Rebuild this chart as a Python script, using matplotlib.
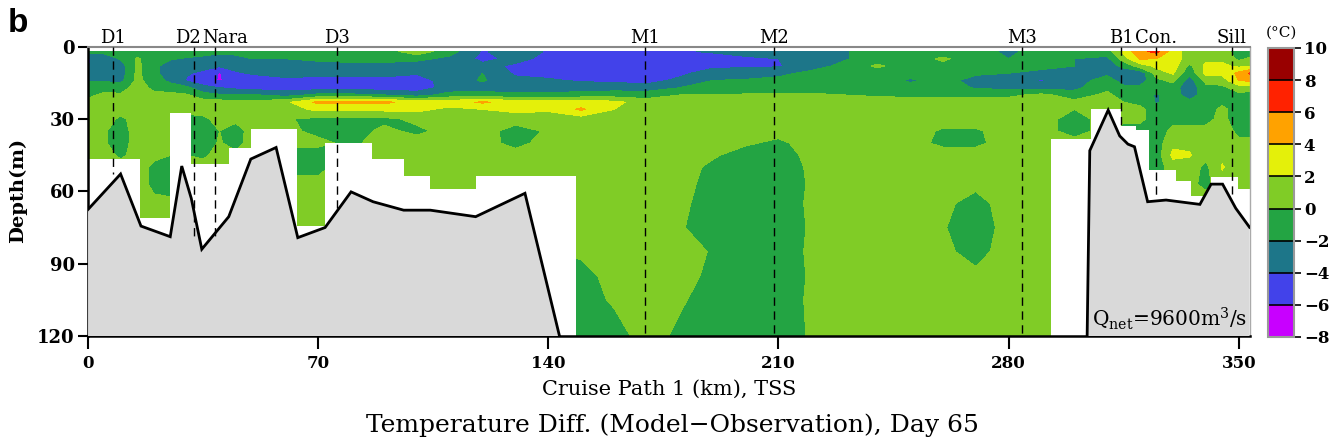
"""
Temperature difference section (model - observation) along cruise path 1
"""

import numpy as np
import matplotlib as mpl
import matplotlib.pyplot as plt

mpl.rcParams.update(
    {
        "font.family": "DejaVu Serif",
        "mathtext.fontset": "dejavuserif",
    }
)

# distance along the cruise path (km) and depth levels (m) of the section grid
dist_km = [0, 5, 10, 15, 20, 25, 30, 35, 40, 45, 50, 60, 70, 80, 90, 100, 110, 120,
           130, 140, 150, 160, 170, 180, 190, 200, 210, 220, 230, 240, 250, 260, 270,
           280, 290, 300, 310, 315, 320, 325, 330, 335, 340, 345, 350, 354]
depth_m = [2, 5, 8, 11, 14, 17, 20, 23, 26, 30, 35, 40, 45, 50, 57, 65, 75, 85, 95, 105, 120]

# one profile (top -> bottom) per distance, degC
temp_diff = [
    [-1.5, -4.2, -4.1, -3, -2.2, -1, -0.5, 0.5, 1, 1, 1, 1, 1, 1, 1, 1, 1, 1, 1, 1, 1],
    [-1.5, -3, -3, -3, -2.2, -1, 0.5, 1, 1, 1, 0.2, 0.2, 1, 1, 1, 1, 1, 1, 1, 1, 1],
    [-1, -1.8, -3, -3, -2.5, -1, 0.3, 1, 1, -0.5, -1, -1, -0.5, 1, 1, 1, 1, 1, 1, 1, 1],
    [-1, 0.2, 0.5, 0.5, 0.5, 1, 1, 1, 1, 1, 1, 1, 1, 1, 1, 1, 1, 1, 1, 1, 1],
    [-1, -1, -1.5, -1.5, -1, -0.5, 0.5, 1, 1, 1, 1, 1, 0.5, -0.5, -0.5, 0.5, 1, 1, 1, 1, 1],
    [-1, -1.8, -3, -3, -2.5, -1, 0.5, 1, 1, 1, 1, 1, 0, -1, -1, 0.5, 1, 1, 1, 1, 1],
    [-1, -2.2, -3, -3.8, -4.2, -1.5, 0.2, 1, 1, -1, -1, -1, 0, 1, 1, 1, 1, 1, 1, 1, 1],
    [-1.2, -2.5, -3.3, -4.5, -5, -3.5, -1.2, 0.8, 1, -0.5, -1, -1, -0.5, 1, 1, 1, 1, 1, 1, 1, 1],
    [-1.5, -3, -3.8, -6.2, -6.2, -4, -1.8, 0.8, 1, 0.8, 0, 0.2, 1, 1, 1, 1, 1, 1, 1, 1, 1],
    [-1.5, -2.5, -3.2, -4.3, -5, -4.5, -1.8, 0.5, 1, 0.5, -1, -0.8, 0.5, 1, 1, 1, 1, 1, 1, 1, 1],
    [-1.2, -2, -3, -3.8, -5, -4.8, -1.8, 0.5, 1, 1, 1, 1, 1, 1, 1, 1, 1, 1, 1, 1, 1],
    [-1, -2, -3, -3.3, -4.5, -5, -2.8, 1.5, 1, 0.2, 0.5, 0.5, -1, -1, 1, 1, 1, 1, 1, 1, 1],
    [-1, -1.5, -3, -3.3, -4.8, -5, -1.5, 4.5, 2.5, -0.5, -0.5, 0.5, -1, -0.5, 0.5, 1, 1, 1, 1, 1, 1],
    [-1, -1.5, -2.5, -3.3, -4.8, -5, -1.5, 4.5, 2.5, -0.5, -1, -0.5, 1, 1, 1, 1, 1, 1, 1, 1, 1],
    [-1, -1.5, -2.5, -3.2, -4.8, -5, -2, 4.5, 2.5, -0.5, 0.5, 1, 1, 1, 1, 1, 1, 1, 1, 1, 1],
    [1.2, -1.5, -3, -3.8, -5, -5, -3, 3, 2.5, 0.5, -0.5, 1, 1, 1, 1, 1, 1, 1, 1, 1, 1],
    [-1.2, -2.5, -3, -3, -3, -3.2, -1.2, 3, 1.5, 1, 0.8, 1, 1, 1, 1, 1, 1, 1, 1, 1, 1],
    [-4.2, -4.5, -3.5, -2, -1.8, -3, -1.2, 4.3, 2, 1, 1, 1, 1, 1, 1, 1, 1, 1, 1, 1, 1],
    [-3, -3.5, -4.3, -4.3, -3.5, -3, -1.5, 3, 2.5, 1, -1, -0.8, 1, 1, 1, 1, 1, 1, 1, 1, 1],
    [-4.2, -4.5, -4.5, -4.5, -3.8, -3, -1.5, 3, 2.5, 0.3, 0.3, 1, 1, 1, 1, 1, 1, 0, -1, -1, -1],
    [-4.5, -4.5, -4.5, -4.8, -4.2, -3, -1.2, 3, 4.3, 1, 1, 1, 1, 1, 1, 1, 1, 0.5, -1, -1, -1],
    [-4.5, -4.5, -4.2, -4.8, -4.5, -2.8, -1, 2.5, 2, 1, 1, 1, 1, 1, 1, 1, 1, 1, 1, 0.3, -1],
    [-4.5, -4.5, -4.2, -5, -4.8, -3, -1, 1, 1, 1, 1, 1, 1, 1, 1, 1, 1, 1, 1, 1, 1],
    [-4.5, -4.8, -4, -4.5, -3.5, -2, 0, 1, 1, 1, 1, 1, 1, 1, 1, 0.5, 0.2, 1, 0.8, 0.3, -0.5],
    [-3.5, -6.1, -4.5, -3, -2, -1.5, 0, 1, 1, 1, 1, 1, 0.3, -0.5, -1, -1, -1, -0.2, -0.5, -1, -1],
    [-3, -4.5, -4.3, -3, -1.8, -1.2, 0.2, 1, 1, 1, 1, 0.3, -1, -1, -1, -1, -1, -1, -1, -1, -1],
    [-3, -4, -4.2, -2.5, -1.5, -1, 0.3, 1, 1, 1, 0.8, -0.5, -1, -1, -1, -1, -1, -1, -1, -1, -1],
    [-2.5, -3, -2.8, -1.5, -1, -1, 0.3, 1, 1, 1, 1, 1, 0.6, 0.3, 0.2, 0.3, 0.2, 0.3, 0.2, 0.3, 0.2],
    [-2.2, -2.2, -1.5, -1, -1, -1, 0, 1, 1, 1, 1, 1, 1, 1, 1, 1, 1, 1, 1, 1, 1],
    [-1, -1, 0.3, -1, -1, -1, -0.3, 1, 1, 1, 1, 1, 1, 1, 1, 1, 1, 1, 1, 1, 1],
    [-1, -1, -1, -1.5, -2.2, -1.5, -0.5, 1, 1, 1, 1, 0.8, 1, 1, 1, 1, 1, 1, 1, 1, 1],
    [-1, 0.3, -0.5, -1, -1.5, -1, -0.5, 1, 1, 1, -0.3, -0.5, 1, 1, 0.8, 0.5, 0.2, 0.5, 1, 1, 1],
    [-1, -1, -1, -1.8, -2.5, -2.2, -0.5, 1, 1, 1, -0.3, -0.5, 1, 1, 0.5, -0.8, -1.5, -0.8, 0.5, 1, 1],
    [-2.5, -2, -1, -2, -3, -2.5, -0.5, 1, 1, 1, 1, 1, 1, 1, 1, 1, 1, 1, 1, 1, 1],
    [-1, -1, -1.5, -2.5, -4.2, -3, 0.5, 1, 1, 1, 1, 1, 1, 1, 1, 1, 1, 1, 1, 1, 1],
    [-1, -2, -2, -3, -3, -2.5, -1, 0.5, 0, -1, -1, 1, 1, 1, 1, 1, 1, 1, 1, 1, 1],
    [-1, -2.5, -3, -2.5, -1, -0.5, 0.5, 1, 1, 1, 1, 1, 1, 1, 1, 1, 1, 1, 1, 1, 1],
    [2.5, 1, -1.5, -3.2, -3, -1.5, -1, 0, 0.5, 0.5, -1, -1, -1, -1, -1, 1, 1, 1, 1, 1, 1],
    [5.5, 4.2, 1, -3.5, -3, -1.5, -1, -0.5, 0.5, 0.5, -1, -1, -1, -1, -1, 1, 1, 1, 1, 1, 1],
    [6.6, 4, 2.5, 1, -0.5, -1, -2.2, -2.2, -1, -1, -1, -1, -1, -1, -1, 1, 1, 1, 1, 1, 1],
    [3, 3, 3, 2.2, 0.5, -1, -1, -1, -1, -0.5, 0.5, 1.5, 2.5, 1, 1, 1, 1, 1, 1, 1, 1],
    [1, 1, -0.5, -1.5, -3, -3.5, -3, -1.5, -1, -0.5, 0.5, 1.5, 2.2, 1, 0.5, 1, 1, 1, 1, 1, 1],
    [1, 1.5, 2.5, 2.5, 0.5, -0.5, -1, -1, -1, -0.5, 0.5, 1, 0.5, -0.5, -0.5, 1, 1, 1, 1, 1, 1],
    [1, 1.5, 2.5, 2.5, 1, -0.5, -1, -0.5, 0.5, 0.5, 1, 1, 1.5, 2.2, 1, 1, 1, 1, 1, 1, 1],
    [-1, -0.5, 1.5, 4.5, 4, 1, -0.5, -1, -1, -1, -0.5, 0.5, 1, 0.5, 1, 1, 1, 1, 1, 1, 1],
    [-1, 0.5, 2, 6.5, 4.5, 1, -1, -1, -1, -1, -1, 1, 1, 1, 1, 1, 1, 1, 1, 1, 1],
]

levels = [-8, -6, -4, -2, 0, 2, 4, 6, 8, 10]
level_colors = ["#c800ff", "#4242ea", "#1d7689", "#23a443", "#80cc26",
                "#e4f00a", "#ffa200", "#ff2200", "#990000"]

# model bottom (stepped grid), start km of each step and its depth
grid_km = [0, 15.8, 25.0, 31.2, 42.8, 49.5, 63.5, 72.2, 86.5, 96.0, 104.1, 117.9,
           148.4, 293.0, 305.2, 314.3, 318.8, 322.8, 331.0, 335.6, 341.6, 349.7, 353.3]
grid_depth = [46.7, 71, 27.4, 48.8, 42.2, 34.3, 74.4, 40.1, 46.7, 53.8, 59, 53.7,
              120, 38.4, 25.9, 32.8, 34.6, 51, 55.6, 61.8, 53.9, 59, 59]

# real bathymetry along the path
bathy_w_km = [0, 9.9, 16.1, 25, 28.5, 31.4, 34.6, 42.8, 49.5, 57.2, 63.8, 72.1, 80,
              86.7, 96, 104.1, 117.9, 132.9, 143.4]
bathy_w_depth = [67.5, 52.8, 74.4, 78.8, 49.5, 62.9, 84, 70.5, 46.6, 41.8, 79.2, 75,
                 60.2, 64.3, 67.8, 67.8, 70.5, 60.8, 120]
bathy_e_km = [303.9, 304.7, 310.3, 313.8, 316.3, 318.3, 322.3, 327.9, 338.2, 341.6,
              345.1, 349.1, 353.3]
bathy_e_depth = [120, 43.1, 26.3, 37, 40.4, 41.5, 64.3, 63.6, 65.4, 57, 57, 67, 74.9]

stations = ["D1", "D2", "Nara", "D3", "M1", "M2", "M3", "B1", "Con.", "Sill"]
station_km = [7.7, 32.3, 38.6, 75.6, 169.3, 208.8, 284.1, 314.3, 324.9, 347.9]
station_label_km = [7.7, 30.4, 41.6, 75.6, 169.3, 208.8, 284.1, 314.3, 324.9, 347.9]
station_bottom = [53, 80, 80, 69, 120, 120, 120, 33, 62, 61]

fig = plt.figure(figsize=(13.32, 4.44), dpi=100)
ax = fig.add_axes([0.0661, 0.2432, 0.8720, 0.6516])

cf = ax.contourf(dist_km, depth_m, np.array(temp_diff).T, levels=levels,
                 colors=level_colors, zorder=1)

# land in the model grid
ax.fill_between(grid_km, grid_depth, 120, step="post", color="white", lw=0, zorder=2)

# real bottom
for km, dep in ((bathy_w_km, bathy_w_depth), (bathy_e_km, bathy_e_depth)):
    ax.fill(np.r_[km, km[-1], km[0]], np.r_[dep, 120, 120], color="#d9d9d9", lw=0, zorder=3)
    ax.plot(km, dep, c="k", lw=2, zorder=4, solid_joinstyle="miter")

for name, k, kl, bot in zip(stations, station_km, station_label_km, station_bottom):
    ax.plot([k, k], [0, bot], c="k", lw=1, linestyle=(0, (6, 4)), zorder=5)
    ax.text(kl, 1.0, name, transform=ax.get_xaxis_transform(), ha="center",
            va="bottom", fontsize=13)

ax.text(0.998, 0.035, r"Q$_\mathrm{net}$=9600m$^3$/s", transform=ax.transAxes,
        ha="right", va="baseline", fontsize=14.5, zorder=6)

ax.set_xlim(0, 353.3)
ax.set_ylim(120, 0)
ax.set_xticks([0, 70, 140, 210, 280, 350])
ax.set_yticks([0, 30, 60, 90, 120])
ax.tick_params(axis="x", direction="out", length=9, width=1.5, pad=5, labelsize=12)
ax.tick_params(axis="y", direction="out", length=7.5, width=1.5, pad=2, labelsize=13)
for lab in ax.get_xticklabels() + ax.get_yticklabels():
    lab.set_fontweight("bold")
ax.spines["left"].set_linewidth(1.8)
ax.spines["bottom"].set_linewidth(1.8)
ax.spines["top"].set_color("#888888")
ax.spines["top"].set_linewidth(1.5)
ax.spines["right"].set_color("#aaaaaa")
ax.spines["right"].set_linewidth(1)

fig.text(0.0135, 0.572, "Depth(m)", rotation=90, ha="center", va="center",
         fontsize=14, fontweight="bold")
fig.text(0.502, 0.124, "Cruise Path 1 (km), TSS", ha="center", va="center", fontsize=15)
fig.text(0.505, 0.0428, "Temperature Diff. (Model\u2212Observation), Day 65",
         ha="center", va="center", fontsize=18)
fig.text(0.006, 0.982, "b", ha="left", va="top", fontsize=24, fontweight="bold",
         family="Liberation Sans")

# colour bar
cax = fig.add_axes([0.952, 0.241, 0.0195, 0.651])
cb = fig.colorbar(cf, cax=cax, ticks=levels, drawedges=True)
cb.outline.set_edgecolor("#999999")
cb.outline.set_linewidth(1.5)
cb.dividers.set_color("k")
cb.dividers.set_linewidth(1.2)
cax.tick_params(direction="out", length=5, width=1.2, pad=2, labelsize=12)
cax.set_yticklabels([f"{v}".replace("-", "\u2212") for v in levels])
for lab in cax.get_yticklabels():
    lab.set_fontweight("bold")
fig.text(0.9617, 0.9257, "(\u00b0C)", ha="center", va="center", fontsize=11)

fig.savefig("out.png", dpi=100)
